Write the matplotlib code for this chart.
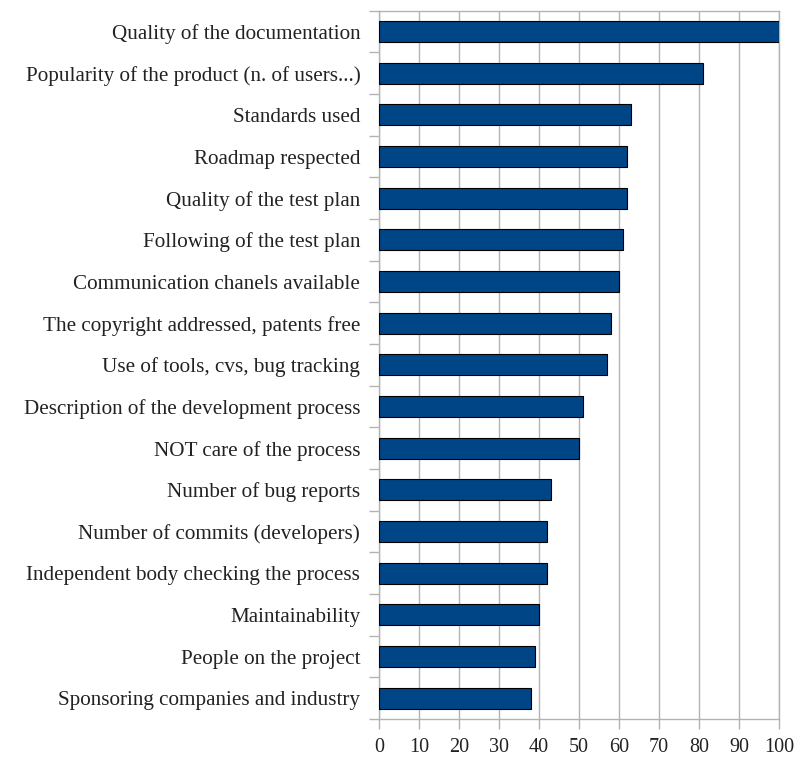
import matplotlib
matplotlib.use("Agg")
import matplotlib.pyplot as plt
import numpy as np

categories = [
    "Quality of the documentation",
    "Popularity of the product (n. of users...)",
    "Standards used",
    "Roadmap respected",
    "Quality of the test plan",
    "Following of the test plan",
    "Communication chanels available",
    "The copyright addressed, patents free",
    "Use of tools, cvs, bug tracking",
    "Description of the development process",
    "NOT care of the process",
    "Number of bug reports",
    "Number of commits (developers)",
    "Independent body checking the process",
    "Maintainability",
    "People on the project",
    "Sponsoring companies and industry",
]
values = [100, 81, 63, 62, 62, 61, 60, 58, 57, 51, 50, 43, 42, 42, 40, 39, 38]
xticks = list(range(0, 101, 10))

plt.rcParams['font.family'] = ['Liberation Serif', 'DejaVu Serif']

fig = plt.figure(figsize=(7.95, 7.59), dpi=100)
ax = fig.add_axes([379/795, 1 - 719/759, 400/795, (719 - 10.7)/759])

n = len(categories)
y = np.arange(n)
ax.barh(y, values, height=0.5, color='#004586', edgecolor='black', linewidth=0.8, zorder=3)
ax.set_ylim(n - 0.5, -0.5)
ax.set_xlim(0, 100)
ax.set_xticks(xticks)
ax.set_xticklabels([str(t) for t in xticks], fontsize=14.5, color='#222222')
ax.set_yticks(y)
ax.set_yticklabels(categories, fontsize=15.2, color='#222222')
ax.set_yticks(np.arange(-0.5, n, 1), minor=True)
ax.tick_params(axis='y', which='major', length=0, pad=13.5)
ax.tick_params(axis='y', which='minor', length=7.5, color='#b3b3b3', width=1)
ax.tick_params(axis='x', which='major', length=7.5, color='#b3b3b3', width=1, pad=6)
ax.grid(axis='x', color='#b3b3b3', linewidth=1, zorder=0)
for s in ax.spines.values():
    s.set_color('#b3b3b3')
    s.set_linewidth(1)

fig.savefig('out.png', dpi=100)
